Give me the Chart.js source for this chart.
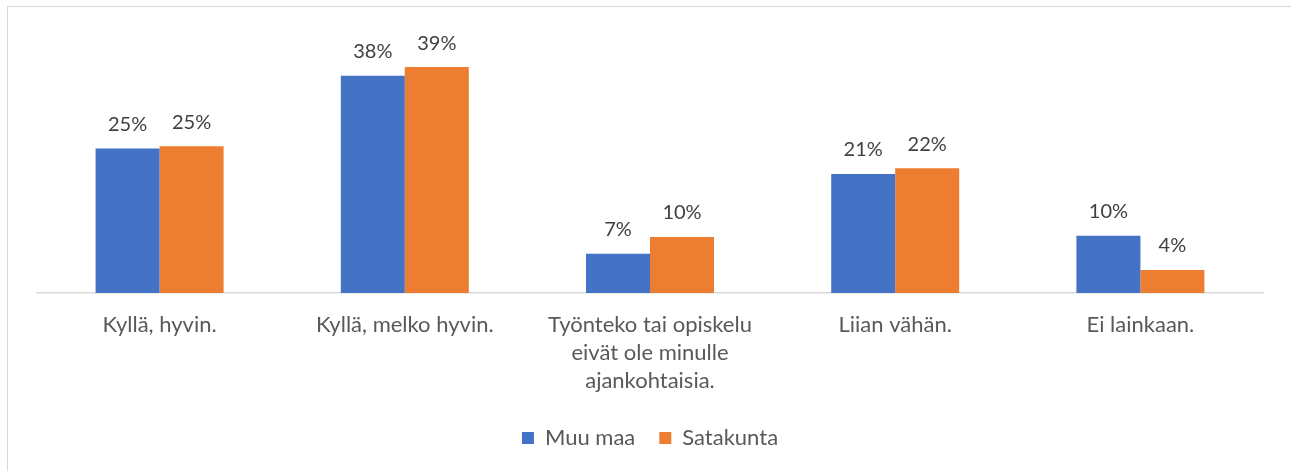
<!DOCTYPE html>
<html>
<head>
<meta charset="utf-8">
<script src="https://cdn.jsdelivr.net/npm/chart.js@4"></script>
<style>
  html, body { margin: 0; padding: 0; background: #fff; }
  #wrap { position: relative; width: 1291px; height: 471px; overflow: hidden; }
  #chart { position: absolute; left: 0; top: 0; }
  #frame { position: absolute; left: 7px; top: 6px; width: 1300px; height: 480px; border-left: 1px solid #d9d9d9; border-top: 1px solid #d9d9d9; pointer-events: none; }
</style>
</head>
<body>
<div id="wrap">
  <canvas id="chart" width="1291" height="471"></canvas>
  <div id="frame"></div>
</div>
<script>
// Categories and values
const categories = [
  'Kyllä, hyvin.',
  'Kyllä, melko hyvin.',
  ['Työnteko tai opiskelu', 'eivät ole minulle', 'ajankohtaisia.'],
  'Liian vähän.',
  'Ei lainkaan.'
];
const muuMaa = [25.0, 37.6, 6.8, 20.6, 9.9];
const satakunta = [25.4, 39.1, 9.7, 21.6, 4.0];

const fontFamily = "Lato, 'Open Sans', sans-serif";

// Draws the percentage above each bar
const valueLabels = {
  id: 'valueLabels',
  afterDatasetsDraw(chart) {
    const ctx = chart.ctx;
    ctx.save();
    ctx.font = '20px ' + fontFamily;
    ctx.fillStyle = '#404040';
    ctx.textAlign = 'center';
    ctx.textBaseline = 'middle';
    chart.data.datasets.forEach((ds, i) => {
      const meta = chart.getDatasetMeta(i);
      meta.data.forEach((bar, j) => {
        ctx.fillText(Math.round(ds.data[j]) + '%', bar.x, bar.y - 24);
      });
    });
    ctx.restore();
  }
};

new Chart(document.getElementById('chart'), {
  type: 'bar',
  data: {
    labels: categories,
    datasets: [
      { label: 'Muu maa', data: muuMaa, backgroundColor: '#4472c4' },
      { label: 'Satakunta', data: satakunta, backgroundColor: '#ed7d31' }
    ]
  },
  options: {
    responsive: false,
    animation: false,
    layout: { padding: { left: 37, right: 28, top: 33, bottom: 12 } },
    datasets: { bar: { categoryPercentage: 0.522, barPercentage: 1 } },
    plugins: {
      legend: {
        position: 'bottom',
        labels: {
          boxWidth: 12,
          boxHeight: 12,
          padding: 24,
          color: '#595959',
          font: { size: 22, family: fontFamily }
        }
      },
      tooltip: { enabled: false }
    },
    scales: {
      x: {
        grid: { display: false, drawTicks: false },
        border: { display: true, color: '#d9d9d9', width: 1.5 },
        afterFit(scale) { scale.height = 110; },
        ticks: {
          padding: 18,
          color: '#595959',
          maxRotation: 0,
          autoSkip: false,
          font: { size: 22, family: fontFamily, lineHeight: 1.27 }
        }
      },
      y: {
        display: false,
        min: 0,
        max: 45
      }
    }
  },
  plugins: [valueLabels]
});
</script>
</body>
</html>
